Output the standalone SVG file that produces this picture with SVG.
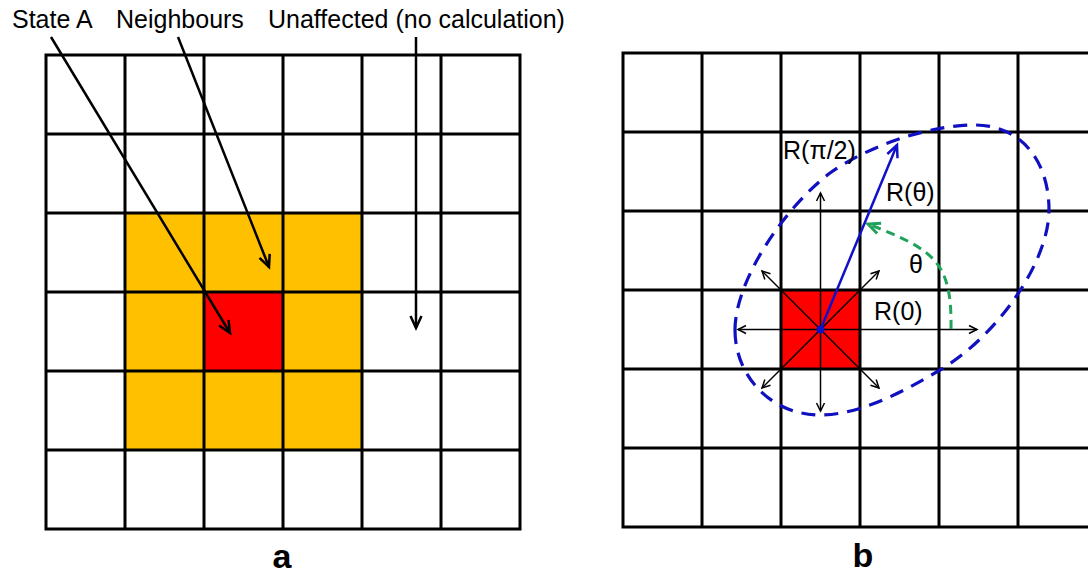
<svg xmlns="http://www.w3.org/2000/svg" width="1088" height="574" viewBox="0 0 1088 574">
  <style>
    .grid { fill: none; stroke: #000; stroke-width: 3; stroke-linecap: square; }
    .lbl { font-family: "Liberation Sans", Arial, sans-serif; font-size: 25px; fill: #000; }
    .panel { font-family: "Liberation Sans", Arial, sans-serif; font-size: 34px; font-weight: bold; fill: #000; text-anchor: middle; }
    .ptr { fill: none; stroke: #000; stroke-width: 2.5; marker-end: url(#ah); }
    .ray { fill: none; stroke: #000; stroke-width: 1.5; marker-end: url(#ahs); }
  </style>
  <defs>
    <marker id="ah" viewBox="-2 -2 18 16" markerWidth="18" markerHeight="16" refX="13" refY="6" orient="auto" markerUnits="userSpaceOnUse">
      <path d="M1,0.5 L13,6 L1,11.5" fill="none" stroke="#000" stroke-width="2.5"/>
    </marker>
    <marker id="ahs" viewBox="-2 -2 14 12" markerWidth="14" markerHeight="12" refX="9" refY="4" orient="auto" markerUnits="userSpaceOnUse">
      <path d="M1,0 L9,4 L1,8" fill="none" stroke="#000" stroke-width="1.5"/>
    </marker>
    <marker id="ahb" viewBox="-2 -2 18 16" markerWidth="18" markerHeight="16" refX="13" refY="6" orient="auto" markerUnits="userSpaceOnUse">
      <path d="M1,0.5 L13,6 L1,11.5" fill="none" stroke="#1010C8" stroke-width="2.5"/>
    </marker>
    <marker id="ahg" viewBox="-2 -2 18 16" markerWidth="18" markerHeight="16" refX="13" refY="6" orient="auto" markerUnits="userSpaceOnUse">
      <path d="M1,0.5 L13,6 L1,11.5" fill="none" stroke="#1FA35A" stroke-width="3"/>
    </marker>
  </defs>
  <rect width="1088" height="574" fill="#fff"/>

  <!-- Panel a -->
  <g id="panel-a">
    <g id="neighbours">
      <rect x="125" y="213" width="237" height="237" fill="#FFC000"/>
    </g>
    <g id="state-a">
      <rect x="204" y="292" width="79" height="79" fill="#FF0000"/>
    </g>
    <path class="grid" d="M46,55V529M125,55V529M204,55V529M283,55V529M362,55V529M441,55V529M520,55V529M46,55H520M46,134H520M46,213H520M46,292H520M46,371H520M46,450H520M46,529H520"/>
    <text class="lbl" x="12" y="28">State A</text>
    <text class="lbl" x="116" y="28">Neighbours</text>
    <text class="lbl" x="268" y="28">Unaffected (no calculation)</text>
    <text class="panel" x="282" y="568">a</text>
  </g>

  <!-- Panel b -->
  <g id="panel-b">
    <g id="state-b">
      <rect x="781" y="290" width="79" height="79" fill="#FF0000"/>
    </g>
    <path class="grid" d="M623,53V527M702,53V527M781,53V527M860,53V527M939,53V527M1018,53V527M1097,53V527M623,53H1097M623,132H1097M623,211H1097M623,290H1097M623,369H1097M623,448H1097M623,527H1097"/>
    <g id="ellipse">
      <path d="M735,330 C735,377 772,415 820,415 C860,415 905,391 940,370 C1000,334 1049,260 1049,210 C1049,160 1020,125 975,125 C930,125 870,145 830,173 C785,207 735,280 735,330 Z" fill="none" stroke="#1010C0" stroke-width="3.2" stroke-dasharray="14 9"/>
    </g>
    <text class="lbl" x="783" y="159">R(π/2)</text>
    <text class="lbl" x="886" y="201">R(θ)</text>
    <text class="lbl" x="909" y="273">θ</text>
    <text class="lbl" x="874" y="320">R(0)</text>
    <text class="panel" x="863" y="567">b</text>
  </g>

  <!-- Connectors -->
  <g id="connectors">
    <line class="ptr" x1="51" y1="37" x2="230" y2="333"/>
    <line class="ptr" x1="178" y1="37" x2="269" y2="267"/>
    <line class="ptr" x1="416" y1="37" x2="416" y2="328"/>

    <line class="ray" x1="820.5" y1="329.5" x2="977" y2="329.5"/>
    <line class="ray" x1="820.5" y1="329.5" x2="738" y2="329.5"/>
    <line class="ray" x1="820.5" y1="329.5" x2="820.5" y2="193"/>
    <line class="ray" x1="820.5" y1="329.5" x2="820.5" y2="411"/>
    <line class="ray" x1="820.5" y1="329.5" x2="762" y2="271"/>
    <line class="ray" x1="820.5" y1="329.5" x2="879" y2="271"/>
    <line class="ray" x1="820.5" y1="329.5" x2="762" y2="388"/>
    <line class="ray" x1="820.5" y1="329.5" x2="879" y2="388"/>

    <path d="M951,329 C952,262 935,250 868,224" fill="none" stroke="#1FA35A" stroke-width="3" stroke-dasharray="9 6" marker-end="url(#ahg)"/>
    <line x1="820.5" y1="329.5" x2="897" y2="145" stroke="#1010C8" stroke-width="2.5" marker-end="url(#ahb)"/>
    <circle cx="820.5" cy="329.5" r="4" fill="#1010C8"/>
  </g>
</svg>
